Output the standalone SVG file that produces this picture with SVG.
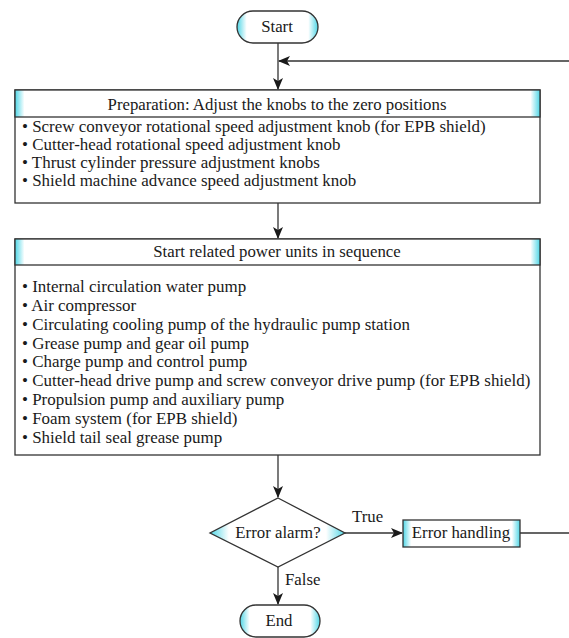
<svg xmlns="http://www.w3.org/2000/svg" width="569" height="638" viewBox="0 0 569 638">
<style>
.t{font-family:"Liberation Serif","Times New Roman",serif;font-size:16.8px;fill:#1a1a1a}
.i{font-size:16.95px}
.c{text-anchor:middle}
.s{stroke:#333;stroke-width:1.3}
.ln{fill:none;stroke:#333;stroke-width:1.3}
</style>
<defs>
<linearGradient id="gW" x1="0" y1="0" x2="1" y2="0">
<stop offset="0" stop-color="#4fd6e6"/><stop offset="0.018" stop-color="#fff"/><stop offset="0.982" stop-color="#fff"/><stop offset="1" stop-color="#4fd6e6"/>
</linearGradient>
<linearGradient id="gN" x1="0" y1="0" x2="1" y2="0">
<stop offset="0" stop-color="#4fd6e6"/><stop offset="0.12" stop-color="#fff"/><stop offset="0.88" stop-color="#fff"/><stop offset="1" stop-color="#4fd6e6"/>
</linearGradient>
<linearGradient id="gB" x1="0" y1="0" x2="1" y2="0">
<stop offset="0" stop-color="#4fd6e6"/><stop offset="0.07" stop-color="#fff"/><stop offset="0.93" stop-color="#fff"/><stop offset="1" stop-color="#4fd6e6"/>
</linearGradient>
<linearGradient id="gD" x1="0" y1="0" x2="1" y2="0">
<stop offset="0" stop-color="#4fd6e6"/><stop offset="0.14" stop-color="#fff"/><stop offset="0.86" stop-color="#fff"/><stop offset="1" stop-color="#4fd6e6"/>
</linearGradient>
<marker id="ar" viewBox="0 0 12 10" refX="11" refY="5" markerWidth="12" markerHeight="10" markerUnits="userSpaceOnUse" orient="auto">
<path d="M0 0 L12 5 L0 10 L3 5 Z" fill="#1a1a1a"/>
</marker>
</defs>
<g id="connectors">
<path class="ln" d="M278 43 V89" marker-end="url(#ar)"/>
<path class="ln" d="M278 203 V238" marker-end="url(#ar)"/>
<path class="ln" d="M278 455 V497" marker-end="url(#ar)"/>
<path class="ln" d="M278 567 V604" marker-end="url(#ar)"/>
<path class="ln" d="M345 533 H402" marker-end="url(#ar)"/>
<path class="ln" d="M520 533 H572 V61 H279" marker-end="url(#ar)"/>
<text class="t" x="352" y="522">True</text>
<text class="t" x="285" y="585">False</text>
</g>
<g id="start">
<rect class="s" x="237" y="11" width="81" height="32" rx="16" fill="url(#gN)"/>
<text class="t c" x="277" y="32">Start</text>
</g>
<g id="preparation">
<rect class="s" x="15" y="90" width="525" height="113" fill="#fff"/>
<rect class="s" x="15" y="90" width="525" height="27" fill="url(#gW)"/>
<text class="t c" x="277" y="110">Preparation: Adjust the knobs to the zero positions</text>
<text class="t i" x="22" y="132">• Screw conveyor rotational speed adjustment knob (for EPB shield)</text>
<text class="t i" x="22" y="150">• Cutter-head rotational speed adjustment knob</text>
<text class="t i" x="22" y="168">• Thrust cylinder pressure adjustment knobs</text>
<text class="t i" x="22" y="186">• Shield machine advance speed adjustment knob</text>
</g>
<g id="power-units">
<rect class="s" x="15" y="239" width="525" height="216" fill="#fff"/>
<rect class="s" x="15" y="239" width="525" height="26" fill="url(#gW)"/>
<text class="t c" x="277" y="257">Start related power units in sequence</text>
<text class="t i" x="22" y="292">• Internal circulation water pump</text>
<text class="t i" x="22" y="311">• Air compressor</text>
<text class="t i" x="22" y="330">• Circulating cooling pump of the hydraulic pump station</text>
<text class="t i" x="22" y="349">• Grease pump and gear oil pump</text>
<text class="t i" x="22" y="367">• Charge pump and control pump</text>
<text class="t i" x="22" y="386">• Cutter-head drive pump and screw conveyor drive pump (for EPB shield)</text>
<text class="t i" x="22" y="405">• Propulsion pump and auxiliary pump</text>
<text class="t i" x="22" y="424">• Foam system (for EPB shield)</text>
<text class="t i" x="22" y="443">• Shield tail seal grease pump</text>
</g>
<g id="error-alarm">
<polygon class="s" points="278,498 345,533 278,567 210,533" fill="url(#gD)"/>
<text class="t c" x="278" y="538">Error alarm?</text>
</g>
<g id="error-handling">
<rect class="s" x="403" y="520" width="117" height="27" fill="url(#gB)"/>
<text class="t c" x="461" y="538">Error handling</text>
</g>
<g id="end">
<rect class="s" x="240" y="605" width="80" height="32" rx="16" fill="url(#gN)"/>
<text class="t c" x="279" y="626">End</text>
</g>
</svg>
